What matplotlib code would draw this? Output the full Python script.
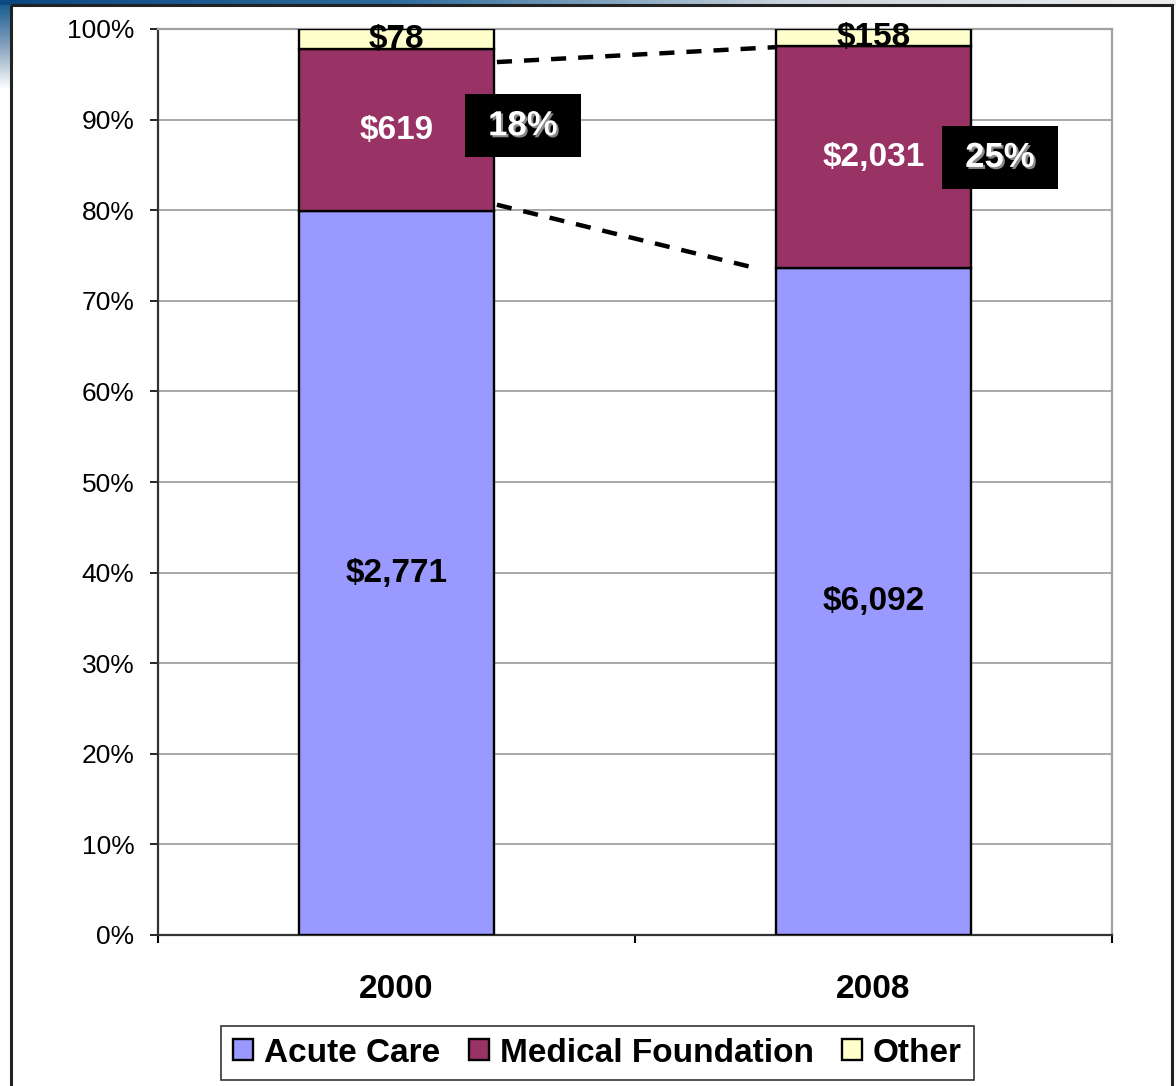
# 2000 vs 2008 revenue mix, 100% stacked columns
import numpy as np
import matplotlib.pyplot as plt
from matplotlib.patches import Rectangle
from matplotlib.colors import LinearSegmentedColormap
import matplotlib.patheffects as pe

plt.rcParams['font.family'] = ['Liberation Sans', 'DejaVu Sans']

years = ['2000', '2008']
series = ['Acute Care', 'Medical Foundation', 'Other']
acute = [2771, 6092]
medical = [619, 2031]
other = [78, 158]
colors = ['#9999FF', '#993366', '#FFFFCC']

vals = np.array([acute, medical, other], dtype=float)
totals = vals.sum(axis=0)
shares = vals / totals * 100

fig = plt.figure(figsize=(11.76, 10.86), dpi=100)

# background decoration: blue band at the top and the slide frame
bg = fig.add_axes([0, 0, 1, 1], zorder=-1)
bg.set_xlim(0, 1176)
bg.set_ylim(1086, 0)
bg.axis('off')
band = LinearSegmentedColormap.from_list('band', ['#0b4a80', '#2a6a9c', '#c9d3dc', '#eeeeee'])
bg.imshow(np.linspace(0, 1, 256)[None, :], cmap=band, extent=(0, 1176, 6, 0), aspect='auto')
swoosh = LinearSegmentedColormap.from_list('sw', ['#1b5f95', '#8aa6bf', '#ffffff'])
bg.imshow(np.linspace(0, 1, 64)[:, None], cmap=swoosh, extent=(0, 11, 90, 5), aspect='auto')
bg.add_patch(Rectangle((11, 5), 1161, 1200, fill=False, edgecolor='#222222', lw=2.2))

ax = fig.add_axes([158 / 1176, 1 - 935 / 1086, (1112 - 158) / 1176, (935 - 29) / 1086])
x = np.arange(len(years))
w = 0.407
bottom = np.zeros(len(years))
for i in range(len(series)):
    ax.bar(x, shares[i], w, bottom=bottom, color=colors[i], edgecolor='black',
           linewidth=1.7, label=series[i], zorder=3)
    # value labels in the middle of each segment
    for j in range(len(years)):
        mid = bottom[j] + shares[i][j] / 2
        ax.text(x[j], mid, '${:,}'.format(int(vals[i][j])), ha='center', va='center',
                fontsize=24, fontweight='bold', color='white' if i == 1 else 'black',
                zorder=5, clip_on=False)
    bottom += shares[i]

acute_top = shares[0]
med_top = shares[0] + shares[1]

# black boxes with the medical foundation share
for j in range(len(years)):
    cx = x[j] + 0.265
    cy = acute_top[j] + shares[1][j] / 2 + (0.5 if j == 0 else 0)
    ax.add_patch(Rectangle((cx - 0.1215, cy - 3.48), 0.243, 6.95, facecolor='black',
                           edgecolor='none', zorder=6))
    ax.text(cx, cy, '{:.0f}%'.format(shares[1][j]), ha='center', va='center', fontsize=25,
            fontweight='bold', color='white', zorder=7,
            path_effects=[pe.withSimplePatchShadow(offset=(1.5, -1.5), shadow_rgbFace='#888888', alpha=1)])

# dashed connectors between the bars
x0 = x[0] + w / 2 + 0.007
ax.plot([x0, x[1] - w / 2 - 0.003], [med_top[0] - 1.4, med_top[1] - 0.1], color='black',
        lw=3.2, dashes=(3.4, 2.7), zorder=4)
ax.plot([x0, x[1] - w / 2 - 0.04], [acute_top[0] + 0.7, acute_top[1]], color='black',
        lw=3.2, dashes=(3.4, 2.7), zorder=4)

ax.set_xlim(-0.5, 1.5)
ax.set_ylim(0, 100)
ax.set_yticks(np.arange(0, 101, 10))
ax.set_yticklabels(['{}%'.format(v) for v in range(0, 101, 10)])
ax.yaxis.grid(True, color='#a8a8a8', lw=1.4, zorder=0)
ax.set_axisbelow(True)
ax.tick_params(axis='y', labelsize=19, length=6, width=1.2, pad=11, direction='out')
ax.set_xticks(x)
ax.set_xticklabels(years, fontsize=24, fontweight='bold')
ax.set_xticks([-0.5, 0.5, 1.5], minor=True)
ax.tick_params(axis='x', which='major', length=0, pad=28)
ax.tick_params(axis='x', which='minor', length=6, width=1.5, direction='out')
for s in ['top', 'right']:
    ax.spines[s].set_color('#a0a0a0')
    ax.spines[s].set_linewidth(1.6)
for s in ['left', 'bottom']:
    ax.spines[s].set_color('#333333')
    ax.spines[s].set_linewidth(1.6)

leg = fig.legend(loc='center', bbox_to_anchor=(597.5 / 1176, 1 - 1053 / 1086), ncol=3,
                 prop={'weight': 'bold', 'size': 24}, frameon=True, fancybox=False,
                 edgecolor='black', handlelength=0.6, handleheight=0.6, handletextpad=0.33,
                 columnspacing=0.85, borderpad=0.35, borderaxespad=0)
leg.get_frame().set_linewidth(1.2)

plt.savefig('out.png', dpi=100)
